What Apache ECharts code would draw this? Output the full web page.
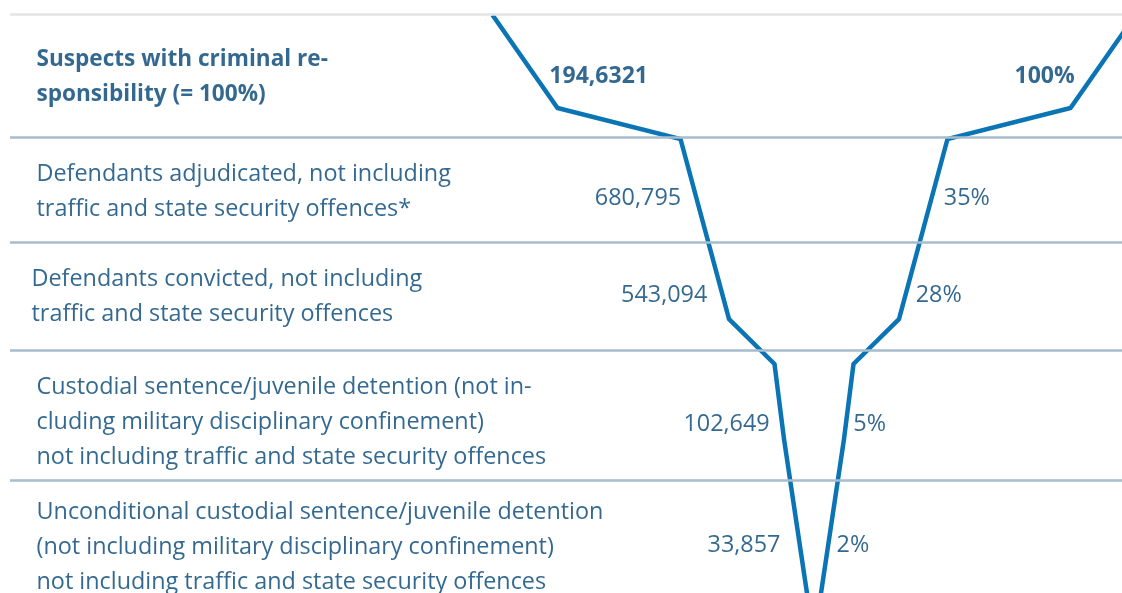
<!DOCTYPE html>
<html>
<head>
<meta charset="utf-8">
<script src="https://cdn.jsdelivr.net/npm/echarts@6/dist/echarts.min.js"></script>
<style>
html,body{margin:0;padding:0;background:#ffffff;}
#chart{width:1122px;height:593px;}
</style>
</head>
<body>
<div id="chart"></div>
<script>
// ---------------- data ----------------
const stages = [
  'Suspects with criminal re-\nsponsibility (= 100%)',
  'Defendants adjudicated, not including\ntraffic and state security offences*',
  'Defendants convicted, not including\ntraffic and state security offences',
  'Custodial sentence/juvenile detention (not in-\ncluding military disciplinary confinement)\nnot including traffic and state security offences',
  'Unconditional custodial sentence/juvenile detention\n(not including military disciplinary confinement)\nnot including traffic and state security offences'
];
const countLabels = ['194,6321', '680,795', '543,094', '102,649', '33,857'];
const shares = [100, 35, 28, 5, 2];

// funnel outline (decorative shape), as depth below the top and half-width
const funnelDepth = [15, 108, 139, 319, 364, 439, 600];
const funnelHalfWidth = [321.5, 256.5, 133.5, 85, 39.5, 30, 6];

// ---------------- layout / style ----------------
const L = {
  width: 1122, height: 593, centerX: 814, ruleStartX: 10,
  ruleDepths: [14, 137.5, 242.5, 350, 480],
  rowCenters: [78, 192, 297.5, 422.5, 548],
  valueCenters: [77, 199, 296, 425, 546],
  rowLabelX: [37, 37, 32, 37, 37],
  gapL: [14, 15, 15, 12, 19],   // first row: inside the funnel
  gapR: [17, 13, 11, 8, 9],
  font: 'Open Sans', fontSize: 23.4, boldRowSize: 22.6, boldValueSize: 23, lineHeight: 35,
  textColor: '#004474', funnelColor: '#0a74b4',
  ruleColor: '#a6bdcd', topRuleColor: '#e4e4e4'
};

function halfWidthAt(d) {
  for (let i = 0; i < funnelDepth.length - 1; i++) {
    const d0 = funnelDepth[i], d1 = funnelDepth[i + 1];
    if (d >= d0 && d <= d1) {
      const t = (d - d0) / (d1 - d0);
      return funnelHalfWidth[i] + t * (funnelHalfWidth[i + 1] - funnelHalfWidth[i]);
    }
  }
  return funnelHalfWidth[funnelHalfWidth.length - 1];
}

const toX = px => px - L.centerX;

const baseLabel = {
  show: true,
  position: [0, 0],
  verticalAlign: 'middle',
  fontFamily: L.font,
  fontSize: L.fontSize,
  lineHeight: L.lineHeight,
  color: L.textColor
};

const stageData = stages.map((s, i) => ({
  value: [toX(L.rowLabelX[i]), L.rowCenters[i]],
  label: Object.assign({}, baseLabel, {
    formatter: s, align: 'left',
    fontWeight: i === 0 ? 'bold' : 'normal',
    fontSize: i === 0 ? L.boldRowSize : L.fontSize
  })
}));

const countData = countLabels.map((c, i) => {
  const d = L.valueCenters[i];
  const hw = halfWidthAt(d);
  const inside = i === 0;
  const x = inside ? -hw + L.gapL[i] : -hw - L.gapL[i];
  return {
    value: [x, d],
    label: Object.assign({}, baseLabel, {
      formatter: c, align: inside ? 'left' : 'right',
      fontWeight: i === 0 ? 'bold' : 'normal',
      fontSize: i === 0 ? L.boldValueSize : L.fontSize
    })
  };
});

const shareData = shares.map((p, i) => {
  const d = L.valueCenters[i];
  const hw = halfWidthAt(d);
  const inside = i === 0;
  const x = inside ? hw - L.gapR[i] : hw + L.gapR[i];
  return {
    value: [x, d],
    label: Object.assign({}, baseLabel, {
      formatter: p + '%', align: inside ? 'right' : 'left',
      fontWeight: i === 0 ? 'bold' : 'normal',
      fontSize: i === 0 ? L.boldValueSize : L.fontSize
    })
  };
});

const ruleLines = L.ruleDepths.map((d, i) => ([
  { coord: [toX(L.ruleStartX), d], lineStyle: { color: i === 0 ? L.topRuleColor : L.ruleColor, width: 2.5, type: 'solid' } },
  { coord: [L.width - L.centerX, d] }
]));

const labelSeries = data => ({
  type: 'scatter', data: data, symbolSize: 1, silent: true,
  itemStyle: { color: 'rgba(0,0,0,0)' }, z: 5
});

const chart = echarts.init(document.getElementById('chart'), null, { renderer: 'canvas' });
chart.setOption({
  animation: false,
  backgroundColor: '#ffffff',
  grid: { left: 0, right: 0, top: 0, bottom: 0 },
  xAxis: { type: 'value', min: -L.centerX, max: L.width - L.centerX, show: false },
  yAxis: { type: 'value', min: 0, max: L.height, inverse: true, show: false },
  series: [
    {
      type: 'line', data: [], silent: true,
      markLine: { silent: true, symbol: ['none', 'none'], label: { show: false }, data: ruleLines, animation: false }
    },
    {
      type: 'line', silent: true, symbol: 'none', clip: true,
      data: funnelDepth.map((d, i) => [-funnelHalfWidth[i], d]),
      lineStyle: { color: L.funnelColor, width: 4.5, join: 'miter' }, z: 3
    },
    {
      type: 'line', silent: true, symbol: 'none', clip: true,
      data: funnelDepth.map((d, i) => [funnelHalfWidth[i], d]),
      lineStyle: { color: L.funnelColor, width: 4.5, join: 'miter' }, z: 3
    },
    labelSeries(stageData),
    labelSeries(countData),
    labelSeries(shareData)
  ]
});
</script>
</body>
</html>
